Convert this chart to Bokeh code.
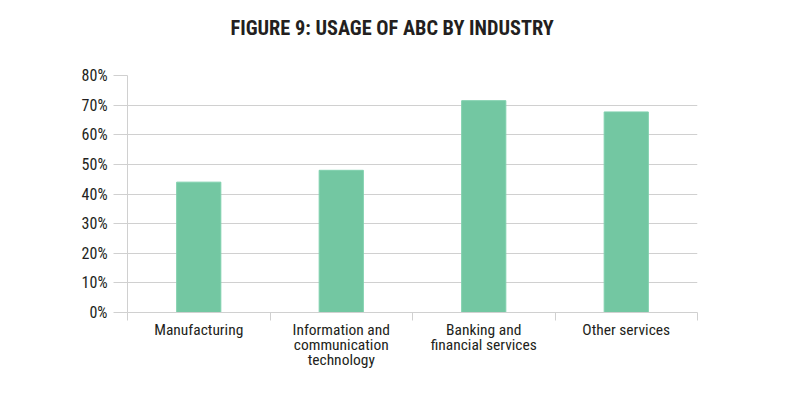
from bokeh.plotting import figure
from bokeh.models import ColumnDataSource, Range1d, FixedTicker, NumeralTickFormatter, Title
from bokeh.embed import file_html
from bokeh.resources import INLINE

categories = ["Manufacturing", "Information and\ncommunication\ntechnology",
              "Banking and\nfinancial services", "Other services"]
values = [0.44, 0.48, 0.715, 0.677]
y_ticks = [0, 0.1, 0.2, 0.3, 0.4, 0.5, 0.6, 0.7, 0.8]
title_text = "FIGURE 9: USAGE OF ABC BY INDUSTRY"

FONT = "Roboto Condensed"
GRID = "#d0d0d0"
TEXT = "#231f20"
BAR = "#73c7a2"

xs = [i + 0.5 for i in range(len(categories))]
src = ColumnDataSource(dict(x=xs, top=values))

p = figure(width=775, height=383, frame_width=570, frame_height=237,
           x_range=Range1d(0, len(categories)), y_range=Range1d(0, 0.8),
           output_backend="svg", toolbar_location=None,
           min_border_left=127, min_border_right=78, min_border_top=75, min_border_bottom=71,
           title=None)
p.outline_line_color = None
p.background_fill_color = "white"
p.border_fill_color = "white"

# spacer between frame and title, then the title itself (outermost)
spacer = Title(text=" ", text_font=FONT, text_font_size="18.5px", standoff=0)
main_title = Title(text=title_text, align="left", vertical_align="top", offset=103, standoff=20,
                   text_font=FONT, text_font_style="bold", text_font_size="20.3px", text_color=TEXT)
p.add_layout(spacer, "above")
p.add_layout(main_title, "above")

p.vbar(x="x", top="top", width=0.31, bottom=0, source=src,
       fill_color=BAR, line_color="#7fd0ad", line_width=1)

# y axis
ya = p.yaxis[0]
ya.ticker = FixedTicker(ticks=y_ticks)
ya.formatter = NumeralTickFormatter(format="0%")
ya.axis_line_color = GRID
ya.major_tick_line_color = GRID
ya.major_tick_out = 14
ya.major_tick_in = 0
ya.minor_tick_line_color = None
ya.major_label_standoff = 6
ya.major_label_text_font = FONT
ya.major_label_text_font_size = "16px"
ya.major_label_text_color = TEXT

# x axis
xa = p.xaxis[0]
xa.ticker = FixedTicker(ticks=xs, minor_ticks=list(range(len(categories) + 1)))
xa.major_label_overrides = {x: c for x, c in zip(xs, categories)}
xa.axis_line_color = GRID
xa.major_tick_line_color = None
xa.major_tick_out = 0
xa.major_tick_in = 0
xa.minor_tick_line_color = GRID
xa.minor_tick_out = 8
xa.minor_tick_in = 0
xa.major_label_standoff = 0
xa.major_label_text_font = FONT
xa.major_label_text_font_size = "15.5px"
xa.major_label_text_color = TEXT
xa.major_label_text_line_height = 0.85

p.xgrid.grid_line_color = None
p.ygrid.grid_line_color = GRID
p.ygrid.ticker = FixedTicker(ticks=y_ticks)

open("out.html", "w").write(file_html(p, INLINE))
